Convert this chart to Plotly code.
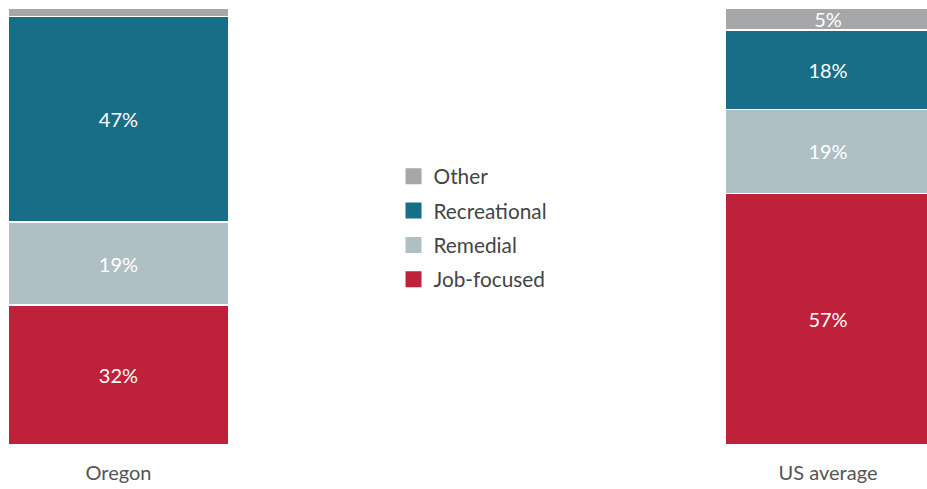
import plotly.graph_objects as go

categories = ["Oregon", "US average"]
series_names = ["Job-focused", "Remedial", "Recreational", "Other"]
job_focused = [32, 57]
remedial = [19, 19]
recreational = [47, 18]
other = [2, 5]
colors = {
    "Job-focused": "#BF213B",
    "Remedial": "#AFC0C4",
    "Recreational": "#186D87",
    "Other": "#A7A7AA",
}
bar_widths = [0.3115, 0.290]

values = {
    "Job-focused": job_focused,
    "Remedial": remedial,
    "Recreational": recreational,
    "Other": other,
}

fig = go.Figure()
for name in series_names:
    vals = values[name]
    labels = [f"{v}%" if v >= 3 else "" for v in vals]
    fig.add_trace(go.Bar(
        x=categories, y=vals, name=name, width=bar_widths,
        marker=dict(color=colors[name], line=dict(color="white", width=1.5)),
        text=labels, textposition="inside", insidetextanchor="middle",
        constraintext="none",
        textfont=dict(color="white", size=20, family="Lato"),
        hoverinfo="skip", showlegend=False,
    ))

# legend entries (top to bottom)
for name in reversed(series_names):
    fig.add_trace(go.Scatter(
        x=[None], y=[None], mode="markers", name=name,
        marker=dict(symbol="square", size=16, color=colors[name]),
        legendgroup=name, showlegend=True,
    ))

fig.update_layout(
    barmode="stack", barnorm="percent",
    width=927, height=489,
    margin=dict(l=8, r=0, t=8, b=44),
    paper_bgcolor="white", plot_bgcolor="white",
    font=dict(family="Lato", color="#555555", size=20),
    legend=dict(
        x=0.4195, y=0.496, xanchor="left", yanchor="middle",
        font=dict(size=20.8, color="#444444"),
        tracegroupgap=4.3, traceorder="grouped",
        itemwidth=30,
    ),
    xaxis=dict(
        type="category", range=[-0.1557, 1.1395],
        showgrid=False, showline=False, zeroline=False, ticks="",
        tickfont=dict(size=20, color="#555555"),
        ticklabelstandoff=14,
    ),
    yaxis=dict(range=[0, 100], visible=False, showgrid=False),
)

fig.write_html(
    "out.html",
    config={"displayModeBar": False},
    post_script="document.body.style.margin='0';document.body.style.overflow='hidden';",
)
